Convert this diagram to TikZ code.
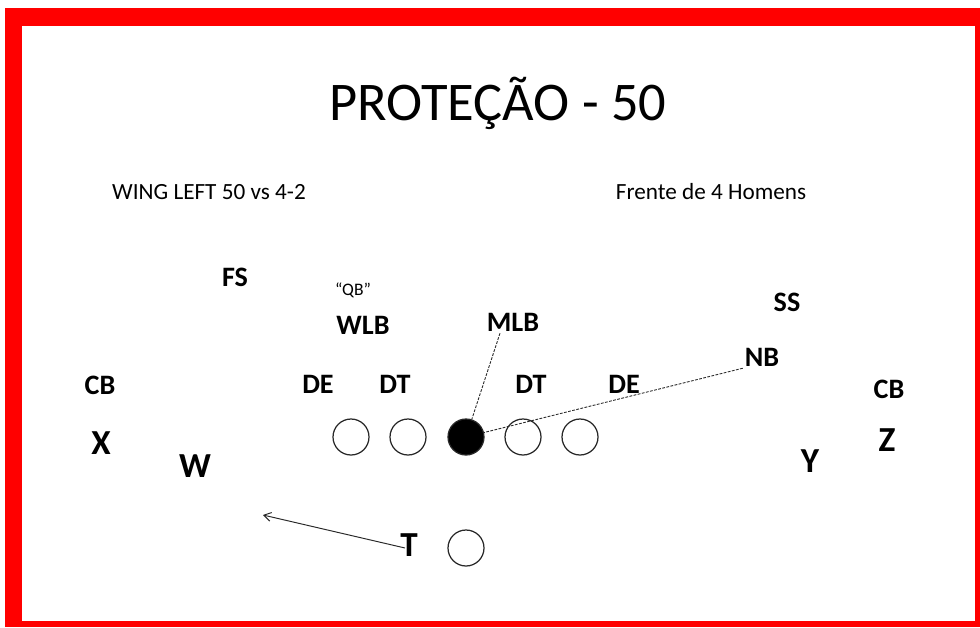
\documentclass[tikz,border=0pt]{standalone}
\usepackage{fontspec}
\setmainfont{Carlito}
\usetikzlibrary{arrows.meta, positioning}
\definecolor{FrameRed}{RGB}{255,0,0}
\definecolor{Ink}{RGB}{40,40,40}

\begin{document}
\begin{tikzpicture}[x=0.2mm, y=-0.2mm,
    lbl/.style={font=\fontsize{16}{18}\selectfont\bfseries, inner sep=1pt},
    big/.style={font=\fontsize{20}{22}\selectfont\bfseries, inner sep=1pt},
    note/.style={font=\fontsize{13.2}{15}\selectfont, inner sep=1pt},
    man/.style={circle, draw=Ink, line width=0.7pt, minimum size=7.2mm, inner sep=0pt},
    link/.style={dash pattern=on 1.6pt off 0.8pt, line width=0.5pt, Ink},
    arr/.style={-{Straight Barb[length=4pt, width=5pt]}, line width=0.55pt, Ink}
  ]
  \useasboundingbox (0,0) rectangle (980,627);

  % frame
  \fill[FrameRed] (5,8) rectangle (980,627);
  \fill[white] (22,26) rectangle (975,621);

  % headings
  \node[font=\fontsize{31}{34}\selectfont] (title) at (498,103) {PROTEÇÃO - 50};
  \node[note] (form) at (209,192) {WING LEFT 50 vs 4-2};
  \node[note] (front) at (711,192) {Frente de 4 Homens};

  % defense
  \node[lbl] (fs)  at (235,277) {FS};
  \node[font=\fontsize{10}{12}\selectfont] (qb) at (353,290) {“QB”};
  \node[lbl] (wlb) at (363,325) {WLB};
  \node[lbl] (mlb) at (513,322) {MLB};
  \node[lbl] (ss)  at (787,302) {SS};
  \node[lbl] (nb)  at (762,357) {NB};
  \node[lbl] (cbl) at (100,385) {CB};
  \node[lbl] (del) at (318,384) {DE};
  \node[lbl] (dtl) at (395,384) {DT};
  \node[lbl] (dtr) at (531,384) {DT};
  \node[lbl] (der) at (624,384) {DE};
  \node[lbl] (cbr) at (889,389) {CB};

  % offensive line, center filled
  \node[man] (lt) at (351,437) {};
  \node[man] (lg) at (408,437) {};
  \node[man, fill=black] (c) at (466,437) {};
  \node[man] (rg) at (523,437) {};
  \node[man] (rt) at (580,437) {};
  \node[man] (qbk) at (466,548) {};

  % receivers and back
  \node[big] (x) at (101,443) {X};
  \node[big] (w) at (195,466) {W};
  \node[big] (y) at (810,461) {Y};
  \node[big] (z) at (887,440) {Z};
  \node[big] (t) at (409,545) {T};
  \coordinate (tgo) at (263,515);

  \draw[link] ([xshift=-2.6mm]mlb.south) -- (c);
  \draw[link] (nb.south west) -- (c);
  \draw[arr] ([shift={(-4,3)}]t.center) -- (tgo);
\end{tikzpicture}
\end{document}
